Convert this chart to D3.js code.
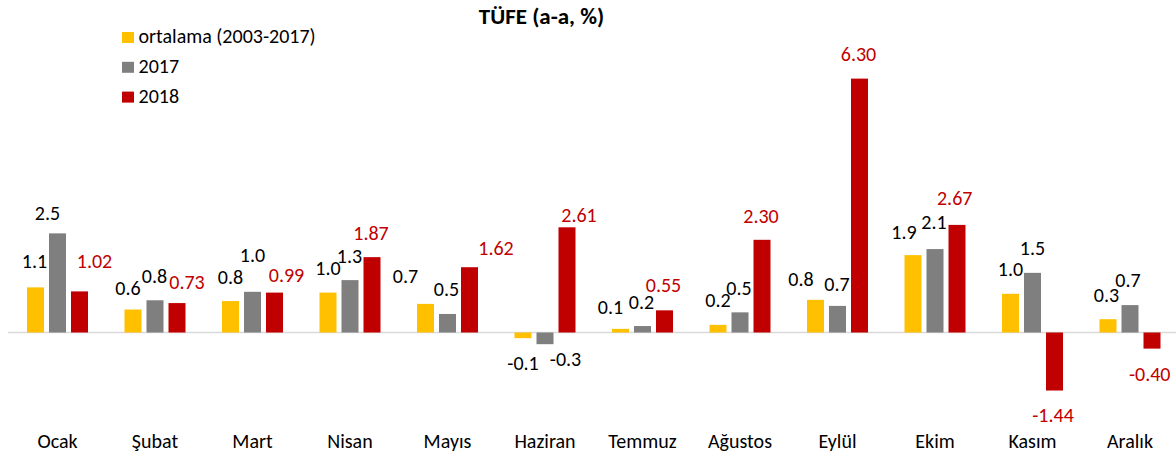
<!DOCTYPE html>
<html>
<head>
<meta charset="utf-8">
<script src="https://cdn.jsdelivr.net/npm/d3@7"></script>
<style>
  html, body { margin: 0; padding: 0; background: #fff; }
  svg { display: block; font-family: Carlito, Calibri, Lato, "Open Sans", sans-serif; }
</style>
</head>
<body>
<svg id="chart" width="1176" height="455"></svg>
<script>
// ---- data ----
const months = ["Ocak","Şubat","Mart","Nisan","Mayıs","Haziran","Temmuz","Ağustos","Eylül","Ekim","Kasım","Aralık"];
const seriesNames = ["ortalama (2003-2017)", "2017", "2018"];
const ortalama = [1.12, 0.57, 0.78, 0.99, 0.71, -0.14, 0.09, 0.19, 0.81, 1.92, 0.96, 0.33];
const y2017    = [2.46, 0.80, 1.01, 1.30, 0.46, -0.29, 0.16, 0.50, 0.66, 2.07, 1.48, 0.68];
const y2018    = [1.02, 0.73, 0.99, 1.87, 1.62, 2.61, 0.55, 2.30, 6.30, 2.67, -1.44, -0.40];
const titleText = "TÜFE (a-a, %)";

// ---- layout / style (label nudges relative to default placement) ----
const colors = ["#FFC000", "#7F7F7F", "#C00000"];
const labelColors = ["#000000", "#000000", "#C00000"];
const labelNudge = [
  [[-1,-2],[-5,2.3],[0,0],[0,-0.7],[-20,-3.7],[0,0.7],[-10,2.6],[0,-0.7],[-14.5,3],[-9,1.3],[0,-0.6],[-1.5,-0.6]],
  [[-10,4],[-0.5,-0.6],[0,-13],[-0.5,0],[-1,-1.3],[20.5,-9.3],[-1,0],[-1,-0.3],[-0.5,2.3],[-1,-2.7],[0,-0.7],[-2,-0.7]],
  [[15,-6.4],[10,2.6],[12,6.7],[-1,-0.3],[26.5,4.7],[12,12],[-1,-1],[-1,0.3],[-1,-0.3],[-2.3,-2.4],[-1.5,0],[-2.3,1.4]]
];

const svg = d3.select("#chart");
const W = 1176, H = 455;
const FS = 20;

const locale = d3.formatLocale({decimal: ".", thousands: ",", grouping: [3], currency: ["", ""], minus: "-"});
const fmts = [locale.format(".1f"), locale.format(".1f"), locale.format(".2f")];

const x0 = d3.scaleBand().domain(months).range([8.75, 1178.75]).padding(0);
const x1 = d3.scaleBand().domain(seriesNames).range([-30.5, 30.5]).paddingInner(5 / 22).paddingOuter(0);
const y = d3.scaleLinear().domain([-2, 7]).range([413.1, 50.4]);

const allSeries = [ortalama, y2017, y2018];

// zero line
svg.append("line")
  .attr("x1", 8).attr("x2", W)
  .attr("y1", y(0)).attr("y2", y(0))
  .attr("stroke", "#D9D9D9").attr("stroke-width", 1.5);

// bars
allSeries.forEach((vals, si) => {
  const g = svg.append("g");
  g.selectAll("rect").data(vals).join("rect")
    .attr("x", (d, i) => x0(months[i]) + x0.bandwidth() / 2 + x1(seriesNames[si]))
    .attr("width", x1.bandwidth())
    .attr("y", d => y(Math.max(0, d)))
    .attr("height", d => Math.abs(y(d) - y(0)))
    .attr("fill", colors[si]);
});

// data labels
allSeries.forEach((vals, si) => {
  const g = svg.append("g");
  g.selectAll("text").data(vals).join("text")
    .attr("x", (d, i) => x0(months[i]) + x0.bandwidth() / 2 + x1(seriesNames[si]) + x1.bandwidth() / 2 + labelNudge[si][i][0])
    .attr("y", (d, i) => (d >= 0 ? y(d) - 17 : y(d) + 31) + labelNudge[si][i][1])
    .attr("text-anchor", "middle")
    .attr("font-size", FS)
    .attr("fill", labelColors[si])
    .text(d => fmts[si](d));
});

// category axis labels
const xAxis = d3.axisBottom(x0).tickSize(0).tickPadding(0);
const ax = svg.append("g").attr("transform", `translate(0, 448)`).call(xAxis);
ax.select(".domain").remove();
ax.selectAll("text")
  .attr("dy", 0)
  .attr("font-size", FS)
  .attr("font-family", "Carlito, Calibri, Lato, 'Open Sans', sans-serif")
  .attr("fill", "#000");

// title
svg.append("text")
  .attr("x", 541.5).attr("y", 24)
  .attr("text-anchor", "middle")
  .attr("font-size", 23)
  .attr("font-weight", "bold")
  .attr("fill", "#000")
  .text(titleText);

// legend
const legend = svg.append("g").attr("transform", "translate(122, 0)");
seriesNames.forEach((name, i) => {
  const row = legend.append("g").attr("transform", `translate(0, ${43 + i * 29.8})`);
  row.append("rect").attr("x", 0).attr("y", -11).attr("width", 12).attr("height", 11).attr("fill", colors[i]);
  row.append("text").attr("x", 16.5).attr("y", 0).attr("font-size", FS).attr("fill", "#000").text(name);
});
</script>
</body>
</html>
